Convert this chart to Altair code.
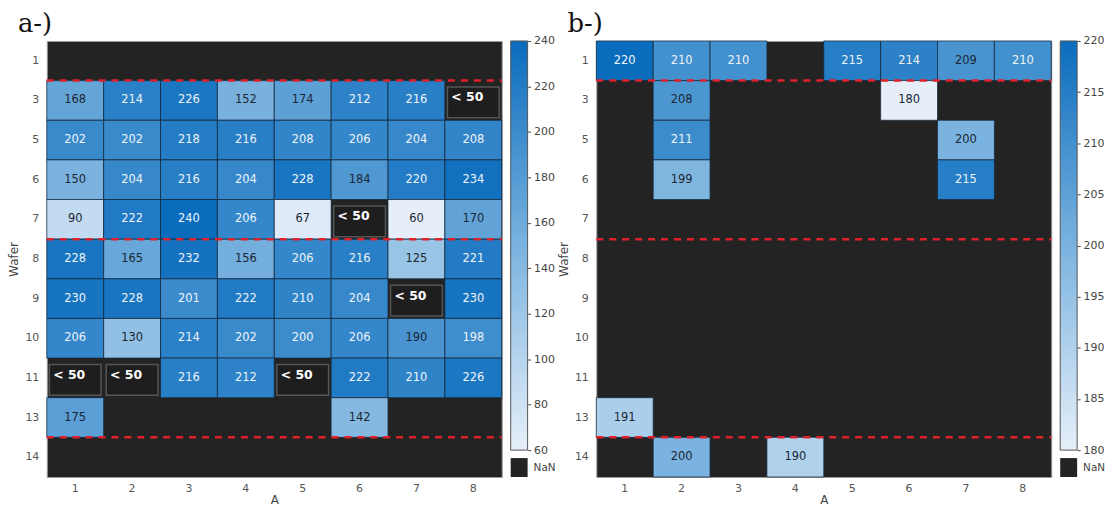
import altair as alt
import numpy as np
import pandas as pd

# Wafer rows (y) and A positions (x)
ROWS = [1, 3, 5, 6, 7, 8, 9, 10, 11, 13, 14]
COLS = [1, 2, 3, 4, 5, 6, 7, 8]
N = None          # no measurement (NaN)
L = "< 50"        # below detection limit

values_a = [
    [N, N, N, N, N, N, N, N],
    [168, 214, 226, 152, 174, 212, 216, L],
    [202, 202, 218, 216, 208, 206, 204, 208],
    [150, 204, 216, 204, 228, 184, 220, 234],
    [90, 222, 240, 206, 67, L, 60, 170],
    [228, 165, 232, 156, 206, 216, 125, 221],
    [230, 228, 201, 222, 210, 204, L, 230],
    [206, 130, 214, 202, 200, 206, 190, 198],
    [L, L, 216, 212, L, 222, 210, 226],
    [175, N, N, N, N, 142, N, N],
    [N, N, N, N, N, N, N, N],
]

values_b = [
    [220, 210, 210, N, 215, 214, 209, 210],
    [N, 208, N, N, N, 180, N, N],
    [N, 211, N, N, N, N, 200, N],
    [N, 199, N, N, N, N, 215, N],
    [N, N, N, N, N, N, N, N],
    [N, N, N, N, N, N, N, N],
    [N, N, N, N, N, N, N, N],
    [N, N, N, N, N, N, N, N],
    [N, N, N, N, N, N, N, N],
    [191, N, N, N, N, N, N, N],
    [N, 200, N, 190, N, N, N, N],
]

# group boundaries marked with dashed lines (top edge of these rows)
SEPARATORS = [3, 8, 14]

ticks_a = [60, 80, 100, 120, 140, 160, 180, 200, 220, 240]
ticks_b = [180, 185, 190, 195, 200, 205, 210, 215, 220]

CMAP = ["#e6eff9", "#7ab3df", "#0a6cbd"]
NAN_COLOR = "#232323"
DARK_TXT = "#1c2633"
LIGHT_TXT = "#eef3f8"
FONT = "DejaVu Sans"

W, H = 457, 438
GRAD_BOTTOM = 411          # colourbar gradient length inside the panel height
CB_X0, CB_X1 = W + 9, W + 26


def xenc():
    return alt.X(
        "col:O",
        scale=alt.Scale(domain=COLS, paddingInner=0, paddingOuter=0),
        axis=alt.Axis(title="A", labelAngle=0, labelPadding=6, titlePadding=1),
    )


def yenc(show_axis=False):
    axis = (
        alt.Axis(title="Wafer", labelPadding=8, titlePadding=4, orient="left")
        if show_axis else None
    )
    return alt.Y(
        "row:O",
        scale=alt.Scale(domain=ROWS, paddingInner=0, paddingOuter=0),
        axis=axis,
    )


def panel(tag, grid, lo, hi, ticks):
    recs = []
    for r, row_vals in zip(ROWS, grid):
        for c, v in zip(COLS, row_vals):
            if v is None:
                continue
            recs.append({"row": r, "col": c, "raw": v})
    df = pd.DataFrame(recs)
    is_low = df["raw"].apply(lambda z: z == L)
    vals = df[~is_low].copy()
    vals["v"] = vals["raw"].astype(float)
    vals["label"] = vals["v"].astype(int).astype(str)
    vals = vals.drop(columns="raw")
    light = (vals["v"] - lo) / (hi - lo) >= 0.74
    low = df[is_low].copy()
    low["label"] = L
    low = low.drop(columns="raw")

    cells = alt.Chart(vals).mark_rect(
        stroke="#15293d", strokeWidth=1, strokeOpacity=0.75
    ).encode(
        x=xenc(),
        y=yenc(show_axis=True),
        color=alt.Color(
            "v:Q",
            scale=alt.Scale(domain=[lo, hi], range=CMAP, interpolate="rgb"),
            legend=None,
        ),
    )
    layers = [cells]
    for sub, col in ((vals[~light], DARK_TXT), (vals[light], LIGHT_TXT)):
        if len(sub):
            layers.append(
                alt.Chart(sub).mark_text(font=FONT, fontSize=11.5, color=col).encode(
                    x=xenc(), y=yenc(), text="label:N"
                )
            )

    if len(low):
        box = alt.Chart(low).mark_rect(
            fill="#1e1e1e", stroke="#555555", strokeWidth=1.5,
            width=52, height=31, yOffset=2,
        ).encode(x=xenc(), y=yenc())
        box_text = alt.Chart(low).mark_text(
            font=FONT, fontSize=12.5, fontWeight="bold", color="#ffffff",
            dx=-6, dy=-3,
        ).encode(x=xenc(), y=yenc(), text="label:N")
        layers += [box, box_text]

    # dashed separators on a hidden continuous row-index scale (0 = top edge)
    sep_df = pd.DataFrame({"pos": [ROWS.index(s) for s in SEPARATORS]})
    seps = alt.Chart(sep_df).mark_rule(
        color="#e0202a", strokeDash=[7, 6], strokeWidth=2.5
    ).encode(
        y=alt.Y("pos:Q", scale=alt.Scale(domain=[0, len(ROWS)], reverse=True,
                                         nice=False, zero=False), axis=None),
        x=alt.value(0),
        x2=alt.value(W),
    )
    layers.append(seps)

    title = alt.Chart(pd.DataFrame({"t": [tag]})).mark_text(
        font="DejaVu Serif", fontSize=26, align="left", baseline="alphabetic",
        color="#111111",
    ).encode(text="t:N", x=alt.value(-29), y=alt.value(-9))
    layers.append(title)

    # colourbar on the right of the panel
    span = hi - lo
    dom_lo = lo - span * (H - GRAD_BOTTOM) / GRAD_BOTTOM
    cb_y = alt.Y(
        "top:Q",
        scale=alt.Scale(domain=[dom_lo, hi], nice=False, zero=False),
        axis=alt.Axis(
            orient="right", values=ticks, offset=CB_X1 - W, title=None,
            domain=False, ticks=True, tickSize=3, tickColor="#444444",
            labelPadding=3, grid=False, labelColor="#444444",
        ),
    )
    grad = alt.Chart(pd.DataFrame({"top": [hi], "bottom": [lo]})).mark_rect(
        fill=alt.Gradient(
            gradient="linear",
            stops=[
                alt.GradientStop(color=CMAP[0], offset=0),
                alt.GradientStop(color=CMAP[1], offset=0.5),
                alt.GradientStop(color=CMAP[2], offset=1),
            ],
            x1=0, x2=0, y1=1, y2=0,
        ),
        stroke="#555555", strokeWidth=1,
    ).encode(y=cb_y, y2="bottom:Q", x=alt.value(CB_X0), x2=alt.value(CB_X1))
    layers.append(grad)

    nan_box = alt.Chart(pd.DataFrame({"t": ["NaN"]})).mark_rect(
        fill=NAN_COLOR
    ).encode(
        x=alt.value(CB_X0), x2=alt.value(CB_X1),
        y=alt.value(GRAD_BOTTOM + 8), y2=alt.value(H),
    )
    nan_text = alt.Chart(pd.DataFrame({"t": ["NaN"]})).mark_text(
        font=FONT, fontSize=10.5, align="left", baseline="middle", color="#444444"
    ).encode(text="t:N", x=alt.value(CB_X1 + 6), y=alt.value((GRAD_BOTTOM + 8 + H) / 2))
    layers += [nan_box, nan_text]

    return (
        alt.layer(*layers)
        .resolve_scale(y="independent")
        .properties(width=W, height=H)
    )


pa = panel("a-)", values_a, 60, 240, ticks_a)
pb = panel("b-)", values_b, 180, 220, ticks_b)

chart = (
    alt.hconcat(pa, pb, spacing=0)
    .resolve_scale(color="independent")
    .properties(
        padding={"left": 7, "top": 9, "right": 0, "bottom": 0},
        background="#ffffff",
    )
    .configure_view(fill=NAN_COLOR, stroke="#9a9a9a", strokeWidth=1)
    .configure_axis(
        labelFont=FONT, labelFontSize=11, labelColor="#555555",
        titleFont=FONT, titleFontSize=12, titleFontWeight="normal",
        titleColor="#444444", ticks=False, domain=False, grid=False,
    )
)

chart.save("out.html", embed_options={"renderer": "svg", "actions": False})
